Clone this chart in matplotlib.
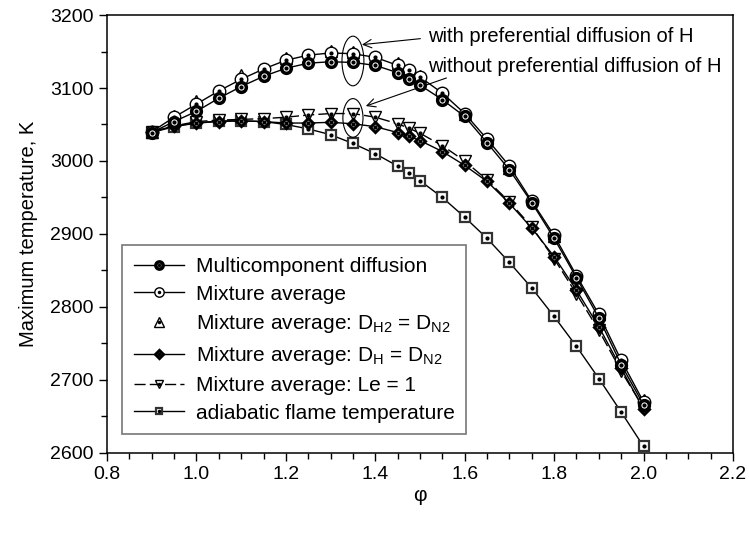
import matplotlib
matplotlib.use('Agg')
import matplotlib.pyplot as plt
from matplotlib.patches import Ellipse
import numpy as np

plt.rcParams.update({
    'font.family': ['Liberation Sans', 'DejaVu Sans'],
    'font.size': 15,
    'mathtext.default': 'regular',
})

# equivalence ratio grid (shared by most series)
phi = [0.9, 0.95, 1.0, 1.05, 1.1, 1.15, 1.2, 1.25, 1.3, 1.35, 1.4, 1.45, 1.475,
       1.5, 1.55, 1.6, 1.65, 1.7, 1.75, 1.8, 1.85, 1.9, 1.95, 2.0]

t_multi = [3039, 3054, 3068, 3086, 3102, 3116, 3127, 3134, 3136, 3135, 3131, 3121, 3113,
           3104, 3084, 3061, 3025, 2988, 2943, 2894, 2840, 2785, 2721, 2666]
t_mix = [3040, 3060, 3078, 3096, 3112, 3126, 3138, 3145, 3148, 3147, 3142, 3131, 3124,
         3115, 3093, 3065, 3030, 2993, 2945, 2898, 2843, 2790, 2727, 2670]
phi_h2 = [0.9, 0.95, 1.0, 1.1, 1.2, 1.3, 1.35, 1.4, 1.45, 1.5, 1.55, 1.6, 1.7, 1.8, 1.9, 2.0]
t_h2 = [3040, 3062, 3082, 3118, 3141, 3151, 3150, 3143, 3134, 3116, 3093, 3064, 2990,
        2897, 2790, 2673]
t_dh = [3040, 3048, 3052, 3054, 3055, 3054, 3052, 3052, 3053, 3051, 3047, 3039, 3034,
        3028, 3013, 2994, 2972, 2942, 2908, 2869, 2823, 2773, 2716, 2660]
t_le = [3040, 3048, 3054, 3056, 3057, 3058, 3060, 3063, 3065, 3065, 3060, 3051, 3045,
        3038, 3021, 3000, 2974, 2944, 2910, 2866, 2818, 2768, 2712, 2662]
t_ad = [3039, 3047, 3052, 3055, 3055, 3054, 3050, 3044, 3036, 3024, 3010, 2993, 2984,
        2973, 2950, 2923, 2894, 2861, 2826, 2787, 2746, 2702, 2656, 2609]

labels = ['Multicomponent diffusion',
          'Mixture average',
          r'Mixture average: D$_{H2}$ = D$_{N2}$',
          r'Mixture average: D$_{H}$ = D$_{N2}$',
          'Mixture average: Le = 1',
          'adiabatic flame temperature']

fig = plt.figure(figsize=(7.49, 5.36), dpi=100)
ax = fig.add_axes([0.1429, 0.1549, 0.8357, 0.8171])

handles = []

def series(x, y, marker, ms, mew, ls='-', lw=1.0, ec='black', dot=2.0, zo=3):
    ln, = ax.plot(x, y, linestyle=ls, color='black', lw=lw, marker=marker, ms=ms, mew=mew,
                  mfc='white', mec=ec, zorder=zo)
    dt, = ax.plot(x, y, linestyle='none', marker='o', color='black', ms=dot, zorder=zo + 0.5)
    handles.append((ln, dt))

series(phi, t_ad, 's', 6.5, 1.6, ec='#333333', zo=3)
series(phi, t_le, 'v', 8.5, 1.0, ls='--', zo=4)
handles[-1][0].set_dashes([8, 3])
series(phi, t_dh, 'D', 5.5, 2.2, zo=5)
series(phi_h2, t_h2, '^', 9, 1.0, ls='none', zo=6)
series(phi, t_mix, 'o', 9, 1.0, zo=7)
series(phi, t_multi, 'o', 7, 2.5, zo=8)

order = [5, 4, 3, 2, 1, 0]
leg = ax.legend([handles[i] for i in order], labels, loc='lower left',
                bbox_to_anchor=(0.024, 0.043), borderaxespad=0, fontsize=15,
                frameon=True, fancybox=False, edgecolor='#555555', handlelength=2.4,
                markerscale=0.75, labelspacing=0.42, borderpad=0.55, handletextpad=0.6)
leg.get_frame().set_linewidth(1.2)

# ellipses and annotations
ax.add_patch(Ellipse((1.35, 3137), 0.049, 68, fill=False, lw=0.8, ec='black', zorder=9))
ax.add_patch(Ellipse((1.35, 3059), 0.045, 53, fill=False, lw=0.8, ec='black', zorder=9))
ax.annotate('', xy=(1.364, 3159), xytext=(1.507, 3168),
            arrowprops=dict(arrowstyle='->', lw=0.8, color='black'))
ax.annotate('', xy=(1.373, 3074), xytext=(1.565, 3115),
            arrowprops=dict(arrowstyle='->', lw=0.8, color='black'))
ax.text(1.518, 3163, 'with preferential diffusion of H', fontsize=14.5, va='baseline')
ax.text(1.518, 3122, 'without preferential diffusion of H', fontsize=14.5, va='baseline')

ax.set_xlim(0.8, 2.2)
ax.set_ylim(2600, 3200)
ax.set_xticks(np.arange(0.8, 2.21, 0.2))
ax.set_xticks(np.arange(0.8, 2.21, 0.05), minor=True)
ax.set_yticks(np.arange(2600, 3201, 100))
ax.set_yticks(np.arange(2600, 3201, 50), minor=True)
ax.xaxis.set_major_formatter(matplotlib.ticker.FormatStrFormatter('%.1f'))
ax.tick_params(which='major', direction='out', length=6, width=1, labelsize=14)
ax.tick_params(which='minor', direction='out', length=4, width=1)
for s in ax.spines.values():
    s.set_linewidth(1.1)

ax.set_ylabel('Maximum temperature, K', fontsize=14.5, labelpad=9)
ax.set_xlabel('\u03c6', fontsize=15, labelpad=2)

fig.savefig('out.png', dpi=100)
